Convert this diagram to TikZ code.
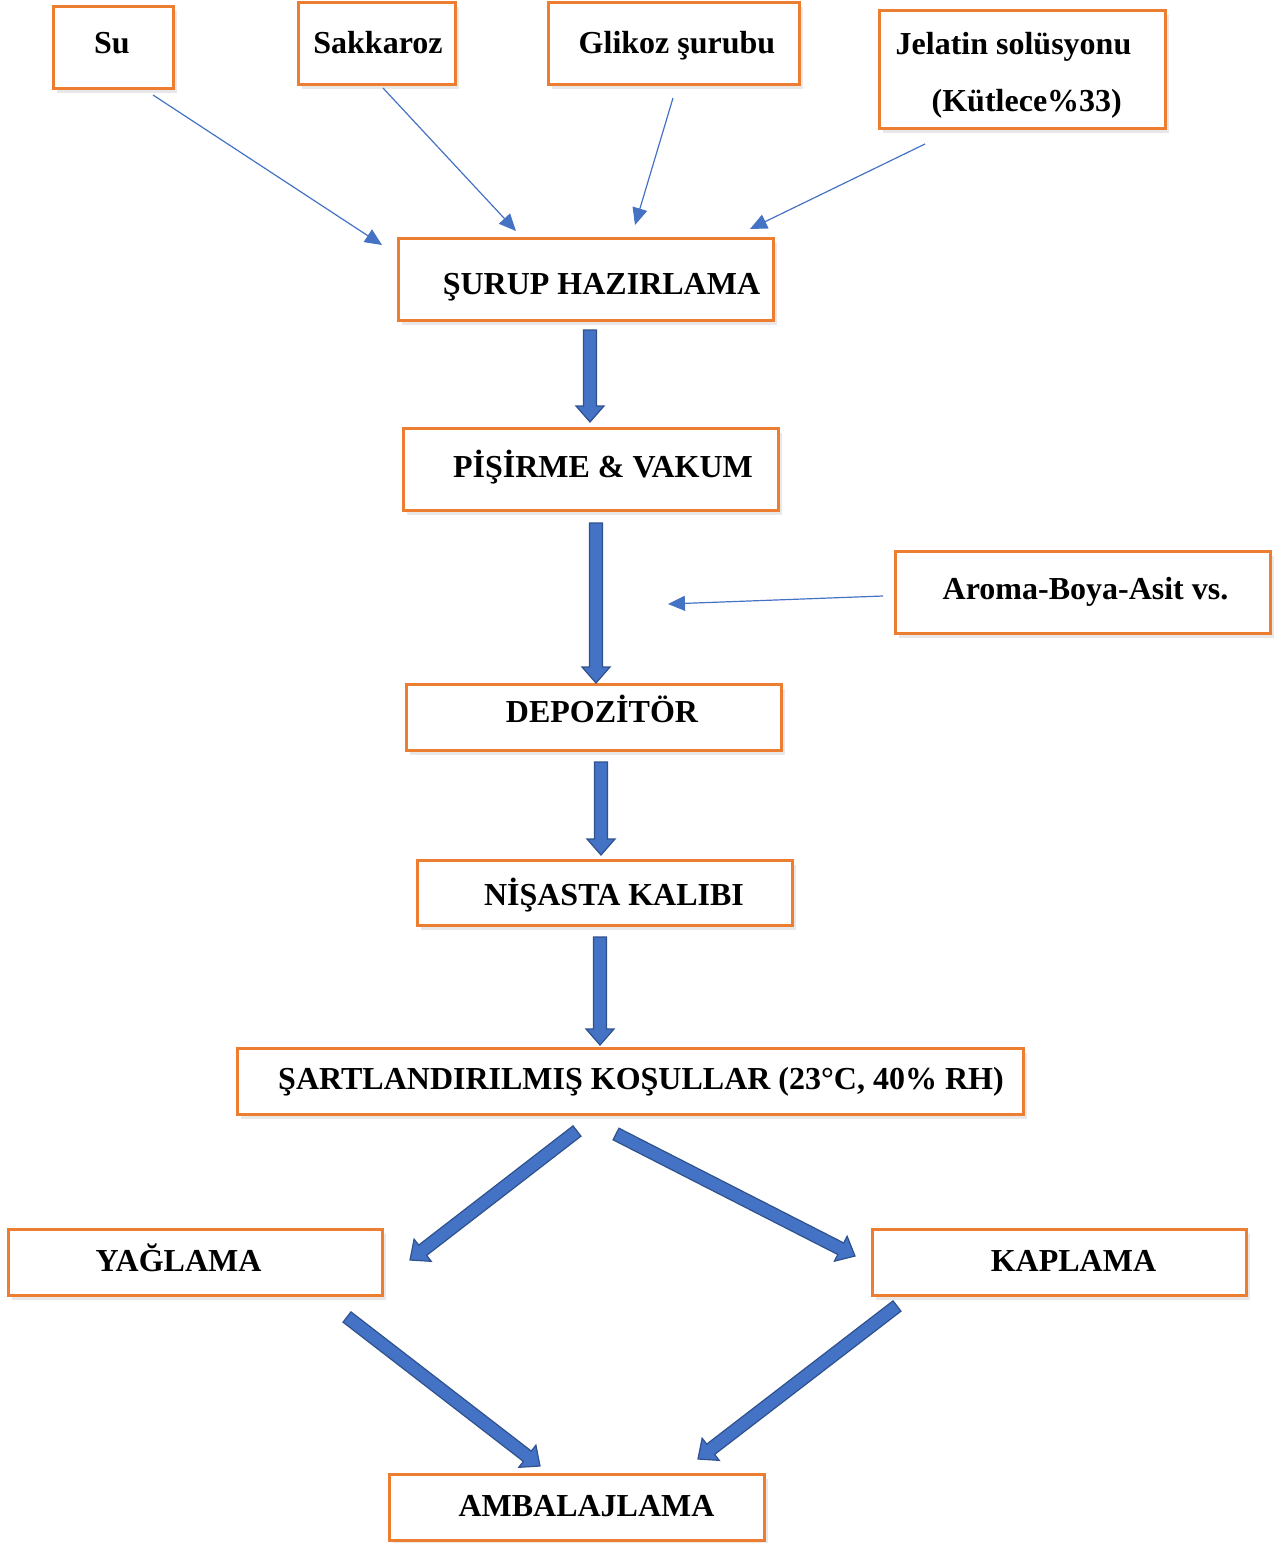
\documentclass[tikz,border=0pt]{standalone}
\usepackage{fontspec}
\setmainfont{Liberation Serif}
\usetikzlibrary{arrows.meta,calc,shadows}
\definecolor{borange}{HTML}{ED7D31}
\definecolor{fblue}{HTML}{4472C4}
\definecolor{fdark}{HTML}{2F528F}
\tikzset{
	box/.style={draw=borange,line width=3pt,fill=white,
		drop shadow={opacity=.18,shadow xshift=4pt,shadow yshift=-5pt}},
	feed/.style={fblue,line width=1.2pt,-{Triangle[length=17pt,width=15pt]}},
	fat/.style={draw=fdark,fill=fblue,line width=1.2pt,line join=miter,
		to path={let \p1=($(\tikztotarget)!16pt!(\tikztostart)$) in
			($(\tikztostart)!6.5pt!90:(\tikztotarget)$)--($(\p1)!6.5pt!90:(\tikztotarget)$)
			--($(\p1)!14pt!90:(\tikztotarget)$)--(\tikztotarget)
			--($(\p1)!14pt!-90:(\tikztotarget)$)--($(\p1)!6.5pt!-90:(\tikztotarget)$)
			--($(\tikztostart)!6.5pt!-90:(\tikztotarget)$)--cycle}}
}
\begin{document}
\begin{tikzpicture}[x=1pt,y=-1pt,font=\fontsize{32}{38}\selectfont\bfseries]
	\useasboundingbox(0,0)rectangle(1275,1543);
	% inputs
	\node[box,minimum width=120pt,minimum height=82pt,label={[xshift=-1pt,yshift=4pt]center:Su}](su)at(113,47){};
	\node[box,minimum width=157pt,minimum height=82pt,label={[xshift=1.5pt,yshift=0pt]center:Sakkaroz}](sakkaroz)at(376.5,43){};
	\node[box,minimum width=251pt,minimum height=82pt,label={[xshift=3.5pt,yshift=-3pt]center:Glikoz şurubu}](glikoz)at(673.5,43){};
	\node[box,minimum width=286pt,minimum height=118pt,label={[align=left,font=\fontsize{32}{57}\selectfont\bfseries,xshift=-8.5pt,yshift=-6pt]center:{Jelatin solüsyonu\\\hspace*{36pt}(Kütlece\%33)}}](jelatin)at(1022,69){};
	\node[box,minimum width=375pt,minimum height=82pt,label={[xshift=3pt,yshift=0pt]center:Aroma-Boya-Asit vs.}](aroma)at(1082.5,592){};
	% process
	\node[box,minimum width=375pt,minimum height=82pt,label={[xshift=16pt,yshift=-8pt]center:ŞURUP HAZIRLAMA}](surup)at(585.5,279){};
	\node[box,minimum width=375pt,minimum height=82pt,label={[xshift=12.5pt,yshift=2pt]center:PİŞİRME \& VAKUM}](pisirme)at(590.5,469){};
	\node[box,minimum width=375pt,minimum height=66pt,label={[xshift=8.5pt,yshift=8pt]center:DEPOZİTÖR}](depozitor)at(593.5,717){};
	\node[box,minimum width=375pt,minimum height=65pt,label={[xshift=9.5pt,yshift=-2.5pt]center:NİŞASTA KALIBI}](nisasta)at(604.5,892.5){};
	\node[box,minimum width=786pt,minimum height=66pt,label={[xshift=11pt,yshift=-1pt]center:{ŞARTLANDIRILMIŞ KOŞULLAR (23°C, 40\% RH)}}](kosul)at(630,1081){};
	\node[box,minimum width=374pt,minimum height=66pt,label={[xshift=-16.5pt,yshift=4pt]center:YAĞLAMA}](yaglama)at(195,1262){};
	\node[box,minimum width=374pt,minimum height=66pt,label={[xshift=14.5pt,yshift=1pt]center:KAPLAMA}](kaplama)at(1059,1262){};
	\node[box,minimum width=375pt,minimum height=66pt,label={[xshift=10pt,yshift=1pt]center:AMBALAJLAMA}](ambalaj)at(576.5,1507){};
	% thin arrows
	\coordinate(su-a)at(153,95);\coordinate(su-b)at(382,245);
	\coordinate(sak-a)at(383,88);\coordinate(sak-b)at(516,231);
	\coordinate(gli-a)at(673,98);\coordinate(gli-b)at(635,225);
	\coordinate(jel-a)at(925,144);\coordinate(jel-b)at(750,229);
	\coordinate(aro-a)at(883,596);\coordinate(aro-b)at(668,604);
	\draw[feed](su-a)--(su-b);
	\draw[feed](sak-a)--(sak-b);
	\draw[feed](gli-a)--(gli-b);
	\draw[feed](jel-a)--(jel-b);
	\draw[feed](aro-a)--(aro-b);
	% block arrows
	\coordinate(f1a)at(590,330);\coordinate(f1b)at(590,422);
	\coordinate(f2a)at(596,523);\coordinate(f2b)at(596,683);
	\coordinate(f3a)at(601,762);\coordinate(f3b)at(601,855);
	\coordinate(f4a)at(600,937);\coordinate(f4b)at(600,1045);
	\coordinate(f5a)at(577,1131);\coordinate(f5b)at(410,1260);
	\coordinate(f6a)at(616,1134);\coordinate(f6b)at(855,1256);
	\coordinate(f7a)at(347,1317);\coordinate(f7b)at(540,1466);
	\coordinate(f8a)at(897,1306);\coordinate(f8b)at(698,1459);
	\foreach \a/\b in {f1a/f1b,f2a/f2b,f3a/f3b,f4a/f4b,f5a/f5b,f6a/f6b,f7a/f7b,f8a/f8b}
		\draw[fat](\a)to(\b);
\end{tikzpicture}
\end{document}
